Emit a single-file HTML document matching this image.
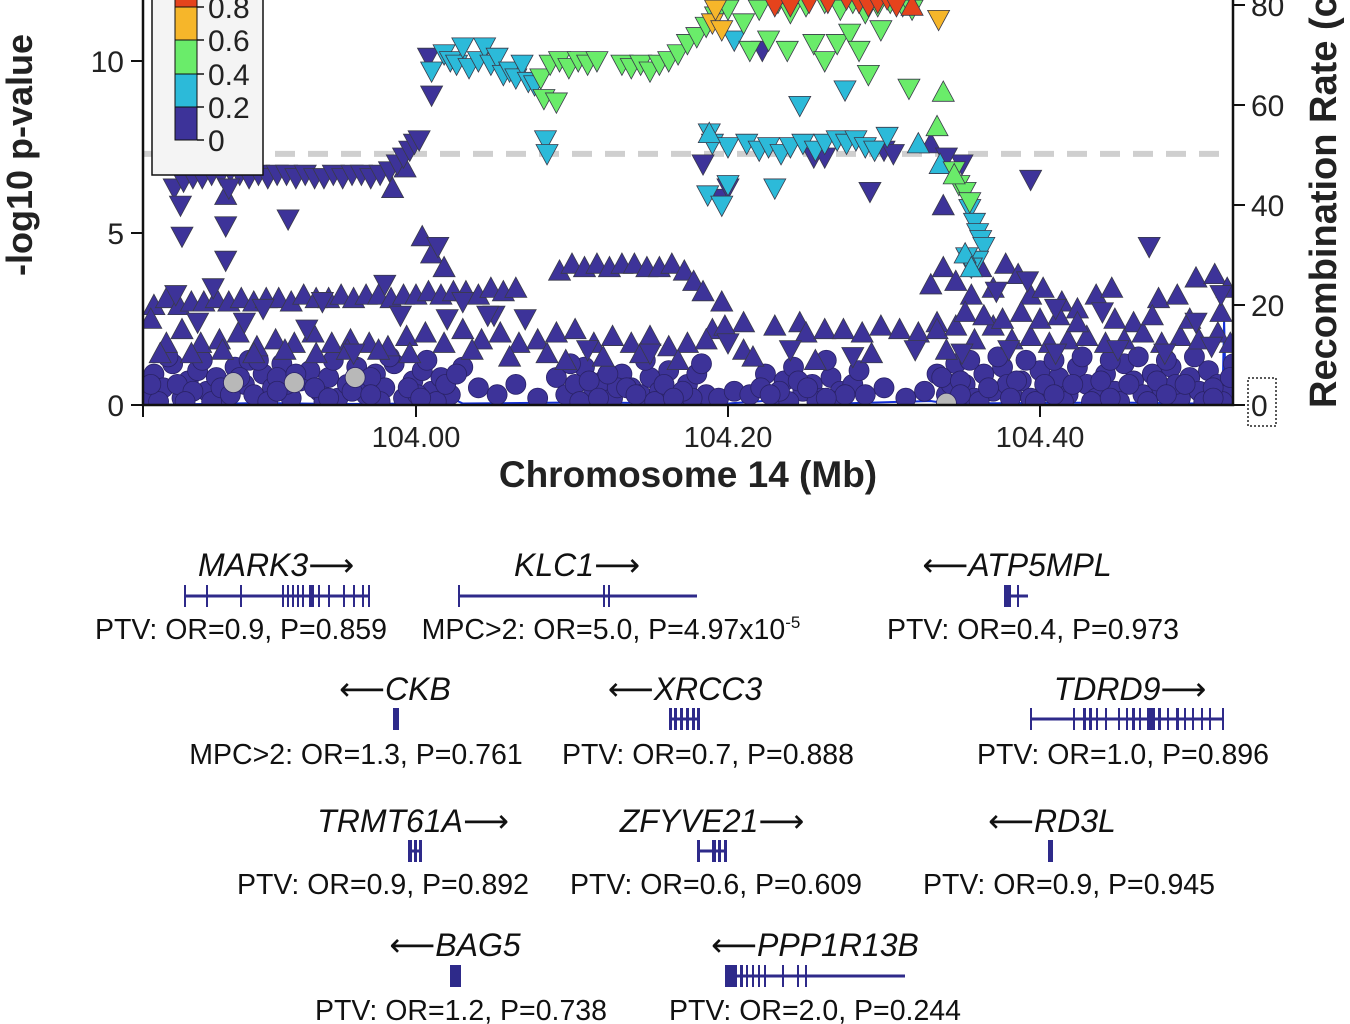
<!DOCTYPE html>
<html><head><meta charset="utf-8"><style>
html,body{margin:0;padding:0;background:#fff;}
svg{display:block;font-family:"Liberation Sans",Arial,sans-serif;}
</style></head><body>
<svg id="chart" width="1350" height="1024" viewBox="0 0 1350 1024" xmlns="http://www.w3.org/2000/svg">
<defs><clipPath id="plotclip"><rect x="143" y="-60" width="1090" height="466"/></clipPath></defs>
<g id="plot" clip-path="url(#plotclip)"></g>
<g id="axes"></g>
<g id="genes"></g>
</svg>
<script>
// ===== Data =====
const xTicks=[104.00,104.20,104.40];
const xTickLabels=["104.00","104.20","104.40"];
const yTicks=[0,5,10];
const rTicks=[0,20,40,60,80];
const sigLine=7.3;
const recPos=[103.826,103.90,103.95,104.00,104.02,104.03,104.10,104.20,104.25,104.26,104.33,104.34,104.45,104.50,104.517,104.518,104.519,104.521,104.524];
const recRate=[0,0.4,0.2,0.3,1.8,0.3,0.5,0.3,1.4,0.2,0.8,0.3,0.5,0.3,1.0,17,3,9,2];

// circles (LD<0.2)
const circPos=[103.828,103.832,103.838,103.844,103.850,103.854,103.860,103.866,103.872,103.878,103.884,103.890,103.896,103.902,103.908,103.914,103.920,103.926,103.932,103.938,103.944,103.950,103.956,103.962,103.968,103.974,103.980,103.986,103.992,103.998,104.004,104.010,104.016,104.022,104.030,104.040,104.052,104.064,104.078,104.090,104.096,104.102,104.108,104.114,104.120,104.126,104.132,104.138,104.144,104.150,104.156,104.162,104.168,104.174,104.180,104.186,104.194,104.204,104.214,104.224,104.230,104.236,104.242,104.248,104.254,104.260,104.266,104.272,104.280,104.288,104.300,104.314,104.326,104.334,104.340,104.346,104.352,104.358,104.364,104.370,104.376,104.382,104.388,104.394,104.400,104.406,104.412,104.418,104.424,104.430,104.436,104.442,104.448,104.454,104.460,104.466,104.472,104.478,104.484,104.490,104.496,104.502,104.508,104.514,104.520,104.524,103.835,103.847,103.869,103.893,103.905,103.917,103.941,103.965,103.977,104.001,104.013,104.105,104.129,104.153,104.177,104.239,104.257,104.269,104.343,104.361,104.379,104.397,104.415,104.433,104.451,104.469,104.487,104.505,104.517,
103.830,103.841,103.857,103.863,103.875,103.887,103.899,103.911,103.923,103.935,103.947,103.959,103.971,103.983,103.995,104.007,104.019,104.026,104.099,104.111,104.123,104.135,104.147,104.159,104.171,104.183,104.221,104.233,104.245,104.251,104.263,104.275,104.284,104.337,104.349,104.355,104.367,104.373,104.385,104.391,104.403,104.409,104.421,104.427,104.439,104.445,104.457,104.463,104.475,104.481,104.493,104.499,104.511,104.522,103.852,103.881,103.911,103.944,103.971,104.003,104.117,104.141,104.165,104.227,104.263,104.349,104.381,104.409,104.445,104.481,104.511];
const circP=[0.3,0.9,0.5,1.2,0.2,0.7,1.0,0.4,0.8,0.2,1.1,0.6,0.3,0.9,0.5,1.2,0.2,0.7,1.0,0.4,0.8,0.2,0.6,1.1,0.3,0.9,0.5,1.2,0.2,0.7,1.0,0.4,0.8,0.3,1.1,0.5,0.3,0.6,0.2,0.8,0.3,0.6,1.1,0.4,0.7,0.2,0.9,0.5,0.3,0.8,0.4,1.0,0.2,0.6,0.9,0.3,0.2,0.4,0.3,0.9,0.3,0.7,1.1,0.4,0.6,0.2,0.8,0.4,0.6,0.3,0.5,0.2,0.4,0.9,0.3,1.2,0.6,0.2,0.9,0.4,1.1,0.3,0.7,0.2,1.0,0.5,0.8,0.3,1.1,0.6,0.2,0.9,0.4,1.2,0.7,0.3,0.9,0.5,1.1,0.2,0.8,0.4,1.0,0.6,0.3,1.2,0.1,0.6,0.1,1.3,0.1,0.6,0.1,0.6,0.1,0.3,0.1,0.1,0.5,0.1,0.2,0.1,0.1,0.1,0.6,0.1,0.6,0.1,0.1,0.1,0.1,0.1,0.6,0.1,0.1,
0.6,1.4,0.4,1.3,0.5,0.8,1.3,0.8,0.9,0.5,1.3,0.4,0.8,1.4,0.5,1.3,0.6,0.9,1.2,0.7,0.9,0.5,1.3,0.6,0.4,1.2,0.5,0.4,0.7,0.5,1.3,0.3,1.0,0.8,0.7,1.3,0.5,1.4,0.7,1.3,0.6,1.3,0.6,1.4,0.7,1.3,0.6,1.4,0.7,1.3,0.6,1.4,0.5,0.8,0.1,0.3,0.4,0.2,0.3,0.2,0.2,0.3,0.2,0.3,0.2,0.3,0.2,0.3,0.2,0.3,0.2];
const grayPos=[103.883,103.922,103.961,104.340];
const grayP=[0.65,0.65,0.8,0.05];

// purple (LD 0-0.2) up triangles
const pUpPos=[103.832,103.840,103.848,103.856,103.864,103.872,103.880,103.888,103.896,103.904,103.912,103.920,103.928,103.936,103.944,103.952,103.960,103.968,103.976,103.984,103.992,104.000,104.008,104.016,104.024,104.032,104.040,104.048,104.056,104.064,104.004,104.010,104.018,104.092,104.100,104.108,104.116,104.124,104.132,104.140,104.148,104.156,104.164,104.172,104.178,104.184,104.190,104.210,104.196,104.246,104.330,104.338,104.334,104.346,104.356,104.362,104.370,104.378,104.386,104.394,104.402,104.414,104.424,104.436,104.446,104.460,104.476,104.488,104.500,104.512,104.520,103.830,103.840,103.850,103.862,103.874,103.886,103.898,103.910,103.922,103.934,103.946,103.958,103.970,103.982,103.994,104.006,104.018,104.030,104.042,104.054,104.066,104.078,104.090,104.102,104.114,104.126,104.138,104.150,104.162,104.174,104.186,104.198,104.210,104.230,104.250,104.262,104.274,104.286,104.298,104.310,104.322,104.334,104.346,104.358,104.370,104.382,104.394,104.406,104.418,104.430,104.442,104.454,104.466,104.478,104.490,104.502,104.514,104.522,103.878,103.985,103.993,104.338,104.330,
103.836,103.856,103.876,103.896,103.916,103.936,103.956,103.976,103.996,104.036,104.060,104.084,104.096,104.120,104.144,104.168,104.216,104.256,104.292,104.340,104.352,104.364,104.376,104.388,104.400,104.412,104.424,104.448,104.472,104.496,104.516];
const pUpP=[2.9,3.1,2.9,3.0,3.0,3.1,3.0,3.1,3.0,3.1,3.1,3.0,3.2,3.1,3.1,3.2,3.1,3.2,3.2,3.1,3.2,3.2,3.3,3.2,3.3,3.3,3.2,3.4,3.3,3.4,4.9,4.4,4.0,3.9,4.1,4.0,4.1,4.0,4.1,4.1,4.0,4.0,4.1,3.9,3.6,3.3,2.2,2.4,3.0,2.4,3.5,4.0,2.4,3.6,3.2,4.0,3.4,4.1,3.8,3.2,3.4,3.0,2.8,3.2,3.4,2.4,3.1,3.2,3.7,3.8,3.4,2.5,1.8,2.2,1.8,1.9,2.1,1.7,1.9,1.8,2.1,1.8,1.9,1.8,1.7,2.0,2.1,1.8,2.2,1.9,2.1,1.8,1.9,2.1,2.2,1.8,2.0,1.8,2.0,1.7,1.8,1.9,2.3,1.6,2.3,2.1,2.2,2.2,2.1,2.3,2.2,2.1,2.2,2.3,1.9,2.3,1.9,2.0,1.8,1.9,2.0,1.8,1.9,2.1,1.8,2.0,1.9,2.1,1.8,6.1,6.3,6.9,5.8,7.6,
1.5,1.5,1.6,1.5,1.6,1.5,1.6,1.6,1.5,1.6,1.4,1.5,1.3,1.4,1.5,1.3,1.4,1.3,1.5,1.6,2.7,2.6,2.5,2.7,2.5,2.6,2.4,2.5,2.6,2.5,2.7];
// purple down triangles
const pDnPos=[103.845,103.851,103.857,103.863,103.869,103.875,103.881,103.887,103.893,103.899,103.905,103.911,103.917,103.923,103.929,103.935,103.941,103.947,103.953,103.959,103.965,103.971,103.977,103.983,103.988,103.992,103.996,103.999,104.002,103.849,103.850,103.878,103.878,103.918,103.880,104.010,104.008,104.184,104.196,104.200,104.222,104.255,104.262,104.300,104.306,104.291,104.394,104.350,104.340,103.846,103.870,103.902,103.940,103.980,104.014,104.030,104.050,104.372,104.392,104.410,104.440,104.470,104.500,104.516,103.860,103.890,103.930,103.960,103.990,104.020,104.046,104.070,104.110,104.150,104.200,104.240,104.280,104.320,104.350,104.380,104.410,104.450,104.480,104.510];
const pDnP=[6.3,6.5,6.6,6.6,6.7,6.7,6.8,6.7,6.6,6.7,6.6,6.7,6.7,6.6,6.7,6.6,6.6,6.7,6.6,6.7,6.7,6.6,6.7,6.8,7.0,7.2,7.4,7.6,7.7,5.8,4.9,5.2,4.2,5.4,6.3,9.0,10.1,7.0,6.0,6.3,10.3,7.2,7.2,7.4,7.3,6.2,6.55,7.0,7.2,3.2,3.4,2.8,3.0,3.5,4.6,3.0,2.6,3.3,3.6,2.8,2.7,4.6,2.4,3.2,2.4,2.4,2.2,1.5,2.6,2.5,2.6,2.5,1.6,1.5,1.8,1.6,1.4,1.6,1.5,1.6,1.5,1.6,1.5,1.7];
// cyan (LD 0.2-0.4)
const cDnPos=[104.010,104.018,104.022,104.026,104.030,104.034,104.040,104.044,104.048,104.052,104.056,104.060,104.064,104.068,104.072,104.076,104.083,104.084,104.188,104.190,104.200,104.212,104.220,104.226,104.234,104.240,104.248,104.256,104.262,104.270,104.276,104.282,104.288,104.294,104.302,104.187,104.196,104.200,104.230,104.246,104.275,104.204,104.355,104.358,104.360,104.362,104.364,104.360,104.356,104.353];
const cDnP=[9.7,10.2,10.0,9.9,10.4,9.8,10.0,10.4,9.9,10.1,9.6,9.7,9.5,9.9,9.4,9.3,7.7,7.3,7.9,7.6,7.5,7.6,7.4,7.5,7.3,7.5,7.6,7.4,7.6,7.7,7.6,7.7,7.5,7.4,7.8,6.1,5.8,6.4,6.3,8.7,9.15,10.6,5.7,5.3,5.0,4.8,4.6,4.2,4.0,4.3];
const cUpPos=[104.188,104.322,104.336,104.352,104.356];
const cUpP=[7.9,7.6,7.0,4.4,4.0];
// green (LD 0.4-0.6)
const gDnPos=[104.080,104.086,104.092,104.098,104.104,104.110,104.116,104.082,104.090,104.132,104.138,104.144,104.150,104.156,104.162,104.168,104.174,104.180,104.186,104.192,104.200,104.210,104.220,104.232,104.240,104.250,104.262,104.272,104.280,104.288,104.296,104.304,104.312,104.318,104.214,104.226,104.238,104.255,104.262,104.270,104.278,104.284,104.290,104.298,104.316,104.345,104.348,104.352,104.355];
const gDnP=[9.5,9.9,10.0,9.8,10.0,9.9,10.0,8.9,8.8,9.9,9.8,9.9,9.7,9.9,10.0,10.2,10.5,10.7,11.0,11.3,11.5,11.1,11.5,11.7,11.4,11.6,11.7,11.5,11.7,11.4,11.6,11.7,11.6,11.5,10.3,10.6,10.3,10.5,10.0,10.5,10.8,10.3,9.6,10.9,9.2,6.8,6.4,6.2,5.9];
const gUpPos=[104.338,104.334,104.345];
const gUpP=[9.1,8.1,6.7];
// orange (LD 0.6-0.8)
const oDnPos=[104.190,104.192,104.196,104.335];
const oDnP=[11.1,11.5,10.9,11.2];
// red (LD 0.8-1)
const rDnPos=[104.230,104.240,104.252,104.264,104.276,104.284,104.290,104.296,104.302,104.308];
const rDnP=[11.6,11.6,11.7,11.7,11.8,11.7,11.6,11.7,11.8,11.6];
const rUpPos=[104.318];
const rUpP=[11.6];

const legendLabels=["0.8","0.6","0.4","0.2","0"];
const legendColors=["#e5431c","#f6b62a","#6aec6a","#2cbad9","#3d3399"];

// ===== Scales =====
const X0=104.0, PX0=416, PXPERMB=1560;
const xs=v=>PX0+(v-X0)*PXPERMB;
const ys=v=>405-v*34.4;
const rs=v=>405-v*5;
const NS="http://www.w3.org/2000/svg";
function mk(tag,attrs,parent){const e=document.createElementNS(NS,tag);for(const k in attrs)e.setAttribute(k,attrs[k]);parent.appendChild(e);return e;}
const plot=document.getElementById('plot');
const axes=document.getElementById('axes');

const sl=mk('line',{x1:143,x2:1233,y1:ys(sigLine),y2:ys(sigLine),stroke:'#cfcfcf','stroke-width':6,'stroke-dasharray':'20 13'},plot);



let d='';recPos.forEach((p,i)=>{d+=(i?'L':'M')+xs(p).toFixed(1)+' '+rs(recRate[i]).toFixed(1);});
const rl=mk('path',{d:d,fill:'none',stroke:'#1530d8','stroke-width':2},plot);



function tri(cx,cy,up){const s=11;return up?`${cx},${cy-s} ${cx-s},${cy+s*0.85} ${cx+s},${cy+s*0.85}`:`${cx},${cy+s} ${cx-s},${cy-s*0.85} ${cx+s},${cy-s*0.85}`;}
function drawCirc(pos,vals,fill,name){pos.forEach((p,i)=>{const c=mk('circle',{cx:xs(p),cy:ys(vals[i]),r:10,fill:fill,stroke:'#2a2266','stroke-width':0.8},plot);

});}
function drawTri(pos,vals,fill,up,name){pos.forEach((p,i)=>{const t=mk('polygon',{points:tri(xs(p),ys(vals[i]),up),fill:fill,stroke:'#3a3a4a','stroke-width':0.8},plot);

});}
drawCirc(circPos,circP,'#3d3399','variant-point');
drawCirc(grayPos,grayP,'#b8b8b8','variant-point-no-ld');
drawTri(pUpPos,pUpP,'#3d3399',true,'variant-point');
drawTri(pDnPos,pDnP,'#3d3399',false,'variant-point');
drawTri(cDnPos,cDnP,'#2cbad9',false,'variant-point');
drawTri(cUpPos,cUpP,'#2cbad9',true,'variant-point');
drawTri(gDnPos,gDnP,'#6aec6a',false,'variant-point');
drawTri(gUpPos,gUpP,'#6aec6a',true,'variant-point');
drawTri(oDnPos,oDnP,'#f6b62a',false,'variant-point');
drawTri(rDnPos,rDnP,'#e5431c',false,'variant-point');
drawTri(rUpPos,rUpP,'#e5431c',true,'variant-point');

const la=mk('path',{d:'M143 -5 V405 H1233 V-5',fill:'none',stroke:'#111','stroke-width':2.5},axes);


yTicks.forEach(v=>{mk('line',{x1:131,x2:143,y1:ys(v),y2:ys(v),stroke:'#111','stroke-width':2},axes);
const t=mk('text',{x:124,y:ys(v)+11,'text-anchor':'end','font-size':30,fill:'#222'},axes);t.textContent=v;

});
rTicks.forEach(v=>{mk('line',{x1:1233,x2:1245,y1:rs(v),y2:rs(v),stroke:'#111','stroke-width':2},axes);
const t=mk('text',{x:1251,y:rs(v)+11,'font-size':30,fill:'#222'},axes);t.textContent=v;

});
xTicks.forEach((v,i)=>{mk('line',{x1:xs(v),x2:xs(v),y1:405,y2:417,stroke:'#111','stroke-width':2},axes);
const t=mk('text',{x:xs(v),y:447,'text-anchor':'middle','font-size':29,fill:'#222'},axes);t.textContent=xTickLabels[i];

});
mk('line',{x1:143,x2:143,y1:405,y2:417,stroke:'#111','stroke-width':2},axes);
mk('rect',{x:1248,y:378,width:28,height:48,fill:'none',stroke:'#222','stroke-width':1.5,'stroke-dasharray':'2 2'},axes);

const lg=mk('g',{},axes);


mk('rect',{x:152,y:-10,width:111,height:185,fill:'#f4f4f4',stroke:'#111','stroke-width':1.5},lg);
const segY=[-26,7,40,74,107,140];
legendColors.forEach((c,i)=>{mk('rect',{x:175,y:segY[i],width:22,height:segY[i+1]-segY[i],fill:c,stroke:'#111','stroke-width':1},lg);});
legendLabels.forEach((l,i)=>{const yy=segY[i+1];mk('line',{x1:197,x2:204,y1:yy,y2:yy,stroke:'#111','stroke-width':1.5},lg);
const t=mk('text',{x:208,y:yy+11,'font-size':30,fill:'#222'},lg);t.textContent=l;

});
</script>
<script>
(function(){
const svg=document.getElementById('chart');
const NS="http://www.w3.org/2000/svg";
function T(x,y,txt,size,opts,name){const t=document.createElementNS(NS,'text');t.setAttribute('x',x);t.setAttribute('y',y);t.setAttribute('font-size',size);t.setAttribute('fill',opts.fill||'#111');t.setAttribute('text-anchor',opts.anchor||'middle');if(opts.bold)t.setAttribute('font-weight','bold');if(opts.rot)t.setAttribute('transform',opts.rot);t.textContent=txt;


svg.appendChild(t);return t;}
T(0,0,'-log10 p-value',36,{bold:true,rot:'translate(32,155) rotate(-90)',fill:'#222'},'y-axis-title');
T(0,0,'Recombination Rate (cM/Mb)',38,{bold:true,anchor:'start',rot:'translate(1336,408) rotate(-90)',fill:'#222'},'right-axis-title');
T(688,487,'Chromosome 14 (Mb)',37,{bold:true,fill:'#222'},'x-axis-title');
})();
</script>
<script>
(function(){
const g=document.getElementById('genes');
const NS="http://www.w3.org/2000/svg";
const C='#2e2a8a';
function el(tag,a){const e=document.createElementNS(NS,tag);for(const k in a)e.setAttribute(k,a[k]);g.appendChild(e);return e;}
function gene(name,label,cx,ty,x1,x2,ly,exons,stat,sx,sy){
 const t=el('text',{x:cx,y:ty,'font-size':32,'font-style':'italic','text-anchor':'middle',fill:'#111'});t.innerHTML=label;
 
 
 if(x2>x1){const l=el('line',{x1:x1,x2:x2,y1:ly,y2:ly,stroke:C,'stroke-width':3});
 
 }
 exons.forEach(e=>{el('rect',{x:e[0],y:ly-11,width:e[1],height:22,fill:C});});
 const s=el('text',{x:sx,y:sy,'font-size':28.5,'text-anchor':'middle',fill:'#111'});s.innerHTML=stat;
 
 
}
const R='<tspan font-family="DejaVu Sans" font-style="normal">⟶</tspan>';
const L='<tspan font-family="DejaVu Sans" font-style="normal">⟵</tspan>';
gene('mark3','MARK3'+R,276,576,184,370,596,[[184,2],[206,2],[240,2],[282,2],[287,2],[292,2],[297,2],[302,2],[309,5],[318,2],[328,2],[343,2],[353,2],[362,2],[368,2]],'PTV: OR=0.9, P=0.859',241,639);
gene('klc1','KLC1'+R,577,576,458,697,596,[[458,2],[603,2],[608,2]],'MPC&gt;2: OR=5.0, P=4.97x10<tspan font-size="17" dy="-11">-5</tspan>',611,639);
gene('atp5mpl',L+'ATP5MPL',1017,576,1004,1028,596,[[1004,7],[1017,2]],'PTV: OR=0.4, P=0.973',1033,639);
gene('ckb',L+'CKB',395,700,0,0,719,[[393,6]],'MPC&gt;2: OR=1.3, P=0.761',356,764);
gene('xrcc3',L+'XRCC3',685,700,669,700,719,[[669,3],[674,3],[680,3],[686,3],[692,3],[697,3]],'PTV: OR=0.7, P=0.888',708,764);
gene('tdrd9','TDRD9'+R,1130,700,1030,1224,719,[[1030,2],[1073,2],[1083,3],[1089,3],[1096,2],[1105,2],[1118,2],[1126,2],[1132,3],[1139,2],[1147,8],[1158,3],[1167,2],[1176,3],[1184,2],[1192,2],[1201,2],[1209,2],[1222,2]],'PTV: OR=1.0, P=0.896',1123,764);
gene('trmt61a','TRMT61A'+R,413,832,408,421,851,[[408,4],[414,3],[419,3]],'PTV: OR=0.9, P=0.892',383,894);
gene('zfyve21','ZFYVE21'+R,712,832,697,727,851,[[697,3],[712,4],[718,3],[724,3]],'PTV: OR=0.6, P=0.609',716,894);
gene('rd3l',L+'RD3L',1052,832,0,0,851,[[1048,5]],'PTV: OR=0.9, P=0.945',1069,894);
gene('bag5',L+'BAG5',455,956,0,0,976,[[450,11]],'PTV: OR=1.2, P=0.738',461,1020);
gene('ppp1r13b',L+'PPP1R13B',815,956,725,905,976,[[725,12],[740,3],[746,2],[752,2],[758,2],[764,2],[782,2],[797,2],[805,2]],'PTV: OR=2.0, P=0.244',815,1020);
})();
</script>
</body></html>
